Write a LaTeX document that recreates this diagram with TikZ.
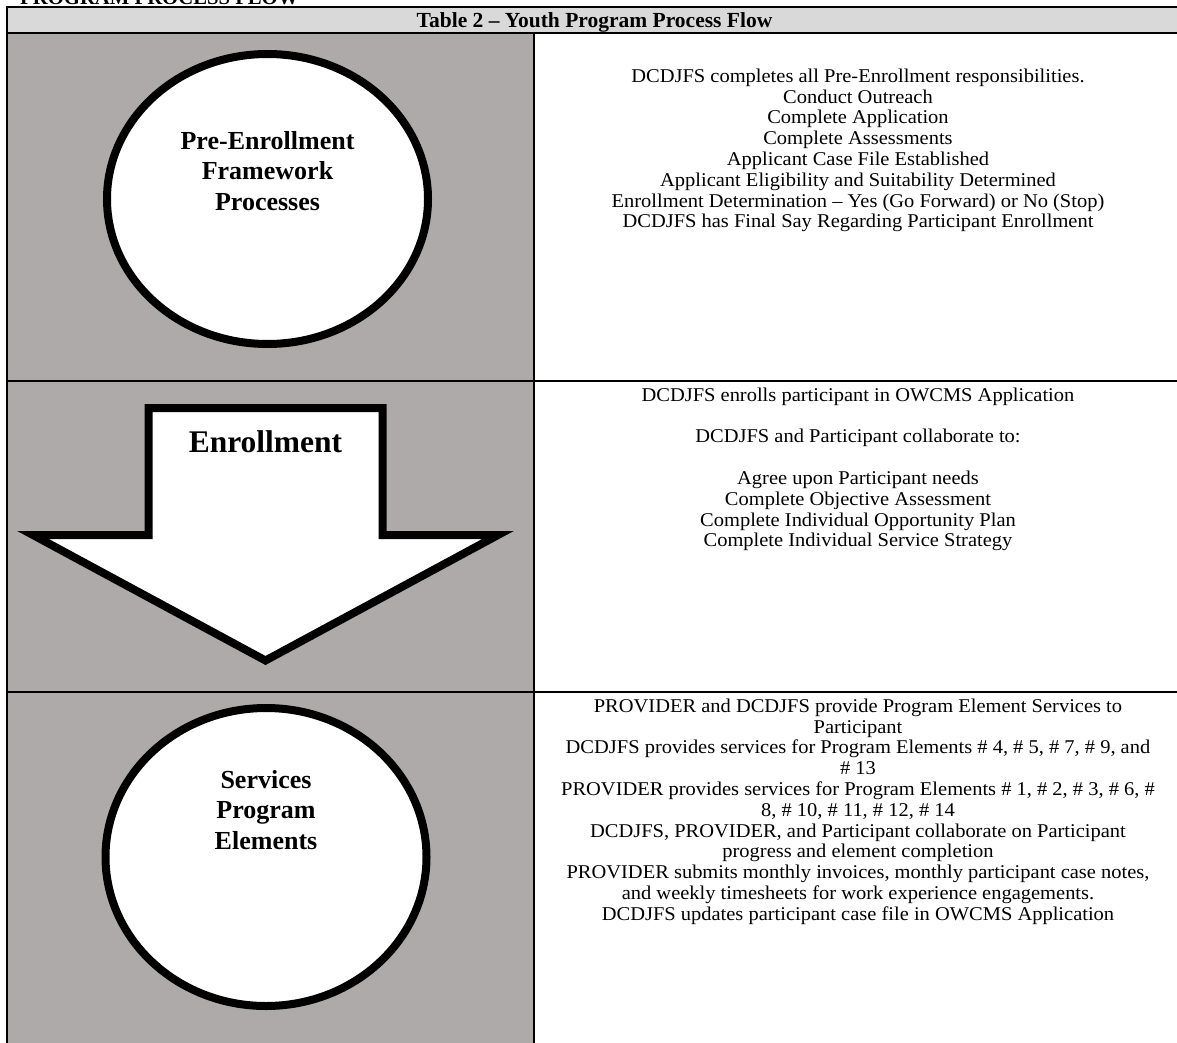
\documentclass[tikz,border=0pt]{standalone}
\usepackage{fontspec}
\setmainfont{Liberation Serif}
\newfontfamily\bodyfont[FakeStretch=1.05]{Liberation Serif}
\usetikzlibrary{shapes.geometric}
\definecolor{cellgray}{HTML}{AEAAAA}
\definecolor{headgray}{HTML}{D9D9D9}
\begin{document}
\begin{tikzpicture}[x=1pt,y=-1pt,
  celltext/.style={font=\bodyfont\fontsize{19.5}{20.8}\selectfont, align=center, inner sep=0pt, anchor=north},
  cirtext/.style={font=\bfseries\fontsize{26}{30.5}\selectfont, align=center, inner sep=0pt, anchor=north},
  shapeline/.style={draw=black, line width=8pt, fill=white},
  borderline/.style={draw=black, line width=2.2pt},
  gridline/.style={draw=black, line width=1.4pt}]
\useasboundingbox (0,0) rectangle (1177,1043);
\clip (0,0) rectangle (1177,1043);
% title (cut off at the top)
\node[font=\bfseries\fontsize{20.7}{23.8}\selectfont, inner sep=0pt, anchor=base west] (title) at (20,4.3) {PROGRAM PROCESS FLOW};
% table fills
\fill[headgray] (7,7.3) rectangle (1182,33.2);
\fill[cellgray] (7,33.2) rectangle (534,1050);
% grid
\draw[gridline] (534,33.2) -- (534,1050);
\draw[gridline] (7,381) -- (1182,381);
\draw[gridline] (7,692) -- (1182,692);
\draw[borderline] (7,1050) -- (7,7.3) -- (1182,7.3);
\draw[borderline] (7,33.2) -- (1182,33.2);
% header
\node[font=\bfseries\fontsize{21.5}{24}\selectfont, inner sep=0pt, anchor=base] (head) at (594.5,27.5) {Table 2 \textendash\ Youth Program Process Flow};
% row 1
\node[ellipse, shapeline, minimum width=321pt, minimum height=290pt, inner sep=0pt] (pre) at (267.5,199) {};
\node[cirtext] (pretxt) at (267.5,131) {Pre-Enrollment\\Framework\\Processes};
\node[celltext] (r1) at (858,68.5) {DCDJFS completes all Pre-Enrollment responsibilities.\\
Conduct Outreach\\
Complete Application\\
Complete Assessments\\
Applicant Case File Established\\
Applicant Eligibility and Suitability Determined\\
Enrollment Determination \textendash\ Yes (Go Forward) or No (Stop)\\
DCDJFS has Final Say Regarding Participant Enrollment};
% row 2
\draw[shapeline, line join=miter] (148.5,408) -- (382.5,408) -- (382.5,535) -- (498,535) -- (265.5,660.5) -- (33,535) -- (148.5,535) -- cycle;
\node[font=\bfseries\fontsize{31.5}{36}\selectfont, inner sep=0pt, anchor=base] (enr) at (265.5,452) {Enrollment};
\node[celltext] (r2) at (858,387.5) {DCDJFS enrolls participant in OWCMS Application\\[20.8pt]
DCDJFS and Participant collaborate to:\\[20.8pt]
Agree upon Participant needs\\
Complete Objective Assessment\\
Complete Individual Opportunity Plan\\
Complete Individual Service Strategy};
% row 3
\node[ellipse, shapeline, minimum width=321pt, minimum height=298pt, inner sep=0pt] (serv) at (266,857) {};
\node[cirtext] (servtxt) at (266,770) {Services\\Program\\Elements};
\node[celltext] (r3) at (858,698.5) {PROVIDER and DCDJFS provide Program Element Services to\\
Participant\\
DCDJFS provides services for Program Elements \# 4, \# 5, \# 7, \# 9, and\\
\# 13\\
PROVIDER provides services for Program Elements \# 1, \# 2, \# 3, \# 6, \#\\
8, \# 10, \# 11, \# 12, \# 14\\
DCDJFS, PROVIDER, and Participant collaborate on Participant\\
progress and element completion\\
PROVIDER submits monthly invoices, monthly participant case notes,\\
and weekly timesheets for work experience engagements.\\
DCDJFS updates participant case file in OWCMS Application};
\end{tikzpicture}
\end{document}
